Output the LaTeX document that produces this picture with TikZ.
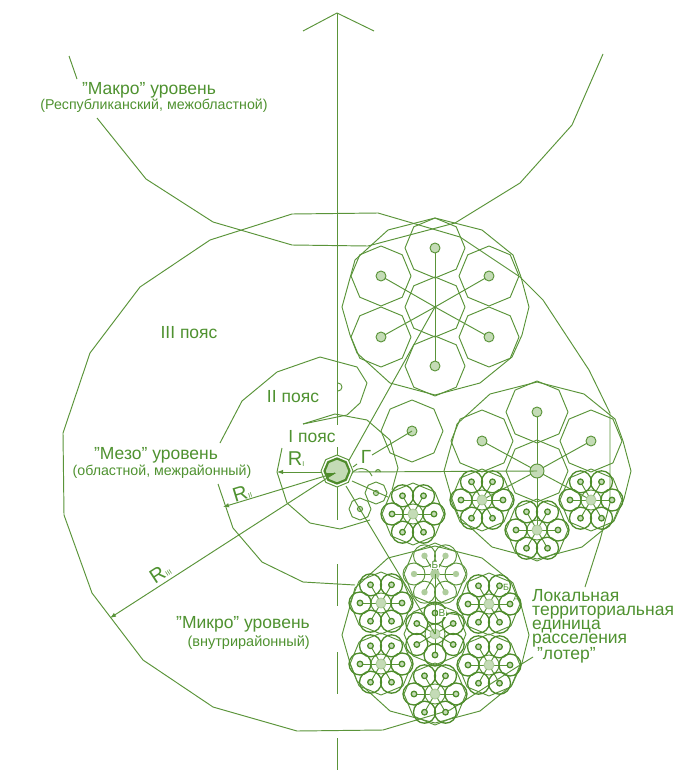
\documentclass[tikz,border=0pt]{standalone}
\usepackage{fontspec}
\setmainfont{Liberation Sans}
\usetikzlibrary{arrows.meta}
\definecolor{gr}{HTML}{5A9439}
\definecolor{grd}{HTML}{4E8C2B}
\definecolor{tx}{HTML}{4F9230}
\definecolor{lt}{HTML}{C4DBB6}
\tikzset{
  ln/.style={draw=gr,line width=0.95pt,line join=round},
  thk/.style={draw=grd,line width=1.3pt,line join=round},
  arr/.style={ln,-{Latex[length=6pt,width=4.5pt]}},
  big/.style={text=tx,font=\fontsize{17.5}{18}\selectfont,inner sep=0pt},
  sml/.style={text=tx,font=\fontsize{14.2}{15}\selectfont,inner sep=0pt},
}
\newcommand\ngon[4][ln]{\draw[#1,shift={(#2)}] plot[samples=9,domain=0:360] (\x:#3#4) -- cycle;}
\newcommand\orbit[1]{\draw[ln,shift={(#1)}] (0,-89)--(47,-77)--(78,-52)--(86,-30)--(94,0)--(87,28)--(77,50)--(45,76)--(0,88)--(-45,76)--(-78,46)--(-85,28)--(-93,0)--(-80,-47)--(-47,-77)--cycle;}
\newcommand\dotc[1]{\draw[ln,fill=lt,shift={(#1)}] (0,0) circle (5);}
\newcommand\minicl[3][0]{%
  \begin{scope}[shift={(#2)}]
    \ngon{0,0}{31}{}
    \draw[ln] (0,0) circle (10);
    \foreach \a in {0,60,...,300} {
      \draw[ln] (0,0) -- (#1+\a:21);
      \draw[thk] (#1+\a:21) circle (11);
      \draw[thk,fill=#3] (#1+\a:21) circle (2.8);
    }
    \draw[ln,fill=lt,draw=lt!80!gr] (0,0) circle (5);
  \end{scope}}
\begin{document}
\begin{tikzpicture}[x=1pt,y=-1pt]
\useasboundingbox (0,0) rectangle (688,771);
\fill[white] (0,0) rectangle (688,771);

% axis
\coordinate (top) at (337,13);
\draw[ln] (303,31) -- (top) -- (374,31);
\draw[ln] (top) -- (337,425);
\draw[ln] (337,447) -- (337,456);
\draw[ln] (337,486) -- (337,520);
\draw[ln] (337,564) -- (337,606);
\draw[ln] (337,652) -- (337,694);
\draw[ln] (337,738) -- (337,770);

% macro curve
\draw[ln] (69,56) -- (77,79);
\draw[ln] (97,118) -- (146,179) -- (213,222) -- (292,245) -- (368,246) -- (455,223) -- (520,183) -- (572,125) -- (603,54);

% belt III
\draw[ln] (585,587) -- (600,540) -- (610,503) -- (610,413) -- (589,370) -- (543,300) -- (520,277) -- (460,237) -- (378,213) -- (292,214) -- (210,240) -- (140,287) -- (90,353) -- (63,433) -- (64,515) -- (92,593) -- (143,660) -- (213,707) -- (297,731) -- (383,730) -- (450,710) -- (520,665) -- (533,657);

% belt II
\draw[ln] (220,443) -- (242,401) -- (277,372) -- (320,357) -- (357,367) -- (367,383) -- (360,403) -- (347,415) -- (303,424);
\draw[ln] (218,484) -- (233,528) -- (262,562) -- (303,582) -- (355,585);
\draw[ln] (338,383) arc (-90:90:4);

% belt I
\draw[ln] (282,448) -- (277,472) -- (287,503) -- (310,523) -- (340,529) -- (370,520);
\draw[ln] (303,424) -- (335,414) -- (367,420) -- (390,440) -- (398,468) -- (392,490);

% upper cluster
\orbit{435,307}
\foreach \p in {435,307; 435,248; 435,366; 489,276; 489,337; 381,276; 381,337} {}
\ngon{435,307}{30}{}
\foreach \xx/\yy in {435/248,435/366,489/276,489/337,381/276,381/337} {
  \ngon{\xx,\yy}{30}{}
  \draw[ln] (435,307) -- (\xx,\yy);
  \dotc{\xx,\yy}
}

% right cluster
\orbit{537,471}
\ngon{537,471}{31}{}
\foreach \xx/\yy in {537/412,482/441,591/441} {
  \ngon{\xx,\yy}{31}{}
  \draw[ln] (537,471) -- (\xx,\yy);
  \dotc{\xx,\yy}
}
\foreach \xx/\yy in {482/500,537/530,591/500} {
  \draw[ln] (537,471) -- (\xx,\yy);
  \minicl{\xx,\yy}{lt}
}
\draw[ln,fill=lt] (537,471) circle (7);

% lower cluster
\orbit{435,635}
\minicl[30]{435,634}{lt}
\minicl{489,604}{lt}
\minicl{489,665}{lt}
\minicl{435,694}{lt}
\minicl{381,664}{lt}
\minicl{381,603}{lt}
\ngon{435,574}{31}{}
\foreach \a in {0,60,...,300} {
  \draw[ln] (435,574) -- ++(\a:21);
  \draw[ln] (435,574) ++(\a:21) circle (11);
  \fill[lt!80!gr] (435,574) ++(\a:21) circle (3.2);
}
\fill[lt!80!gr] (435,574) circle (5);
\draw[ln] (435,574) -- (435,634);
\node[text=tx,font=\fontsize{10}{10}\selectfont,fill=white,inner sep=0.5pt] (bb) at (435,565) {Б};
\node[text=tx,font=\fontsize{10}{10}\selectfont,fill=white,inner sep=0.5pt] (vv) at (442,613) {В};
\node[text=tx,font=\fontsize{9}{9}\selectfont] (bb2) at (506,587) {Б};
\node[text=tx,font=\fontsize{9}{9}\selectfont] (aa) at (516,598) {А};
\draw[ln] (vv.east) -- (459,615);

% lone mini and small units near centre
\minicl{413,514}{lt}
\ngon{412,431}{31}{}
\dotc{412,431}
\draw[ln] (372,455) -- (412,431);
\ngon{376,493}{11}{}
\ngon{360,509}{11}{}
\draw[ln,fill=lt] (376,493) circle (2.6);
\draw[ln,fill=lt] (360,509) circle (2.6);
\draw[ln] (372,476) arc (160:20:-11.5) ;
\draw[ln,fill=lt] (380.5,472) arc (180:0:-2.5);

% hub and radials
\coordinate (hub) at (337,471);
\draw[ln] (352,481) -- (388,497);
\draw[ln] (346,486) -- (435,634);
\draw[ln] (348,462) -- (435,307);
\draw[ln] (353,472) -- (537,471);
\draw[ln] (353,467) -- (357,464);
\ngon[ln,fill=white]{337,471}{16}{}
\ngon[draw=grd,line width=2.2pt,fill=lt,line join=round]{337,471}{12.5}{}
\draw[arr] (322,472) -- (277,472);
\draw[arr] (335,473) -- (223,507);
\draw[arr] (335,473) -- (110,618);
\fill[grd] (336,473) -- (326,473) -- (327,478) -- cycle;

% labels
\node[big] (macro) at (149,90) {"Макро" уровень};
\node[sml] (macro2) at (154,106) {(Республиканский, межобластной)};
\node[big] (b3) at (189,333) {III пояс};
\node[big] (b2) at (293,397) {II пояс};
\node[big] (b1) at (312,437) {I пояс};
\node[big] (meso) at (156,455) {"Мезо" уровень};
\node[sml] (meso2) at (162,472) {(областной, межрайонный)};
\node[big,font=\fontsize{20}{20}\selectfont] (r1) at (296,459) {R\raisebox{-0.5pt}{\fontsize{7}{7}\selectfont I}};
\node[big,font=\fontsize{20}{20}\selectfont,rotate=17] (r2) at (242,493) {R\raisebox{-0.5pt}{\fontsize{7}{7}\selectfont II}};
\node[big,font=\fontsize{20}{20}\selectfont,rotate=-33,rotate=66] (r3) at (160,573) {R\raisebox{-0.5pt}{\fontsize{7}{7}\selectfont III}};
\node[big] (micro) [anchor=east] at (310,624) {"Микро" уровень};
\node[sml,font=\fontsize{14.5}{15}\selectfont] (micro2) [anchor=east] at (310,643) {(внутрирайонный)};
\node[big,font=\fontsize{19}{19}\selectfont] (gamma) at (366,457) {Г};
\node[big,align=left,anchor=north west,font=\fontsize{17.5}{14}\selectfont] (local) at (532,589) {Локальная\\территориальная\\единица\\расселения\\\ "лотер"};
\end{tikzpicture}
\end{document}
